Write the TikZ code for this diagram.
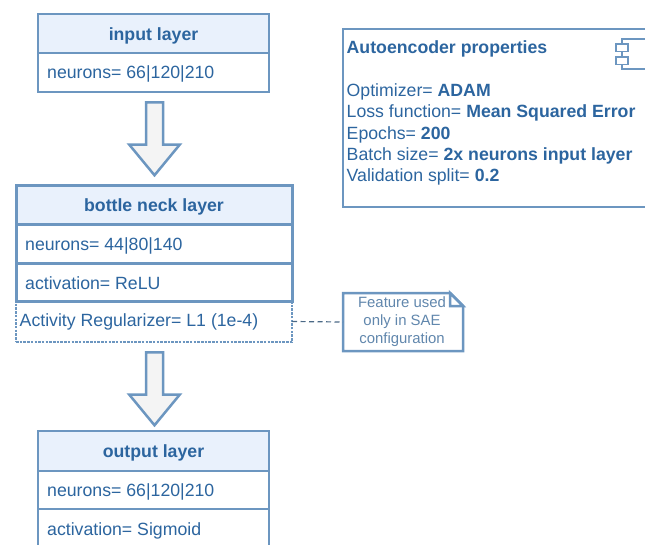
\documentclass[tikz,border=0pt]{standalone}
\usepackage{fontspec}
\setmainfont{Liberation Sans}
\usetikzlibrary{shapes.arrows,shapes.misc,positioning}
\definecolor{edge}{HTML}{6C96C0}
\definecolor{ink}{HTML}{2C659F}
\definecolor{headfill}{HTML}{E9F1FC}
\definecolor{arrowfill}{HTML}{F4F4F4}
\tikzset{
  x=1pt,y=-1pt,
  box/.style={draw=edge,line width=2.5pt,rectangle,inner sep=0pt,outer sep=0pt,anchor=north west},
  head/.style={box,fill=headfill,text=ink,font=\fontsize{17.7}{20}\selectfont\bfseries,text height=13pt,text depth=0pt},
  row/.style={box,fill=white},
  thickrow/.style={row,line width=3pt},
  label/.style={text=ink,font=\fontsize{17.7}{20}\selectfont,inner sep=0pt,anchor=base west},
  icopart/.style={draw=edge,line width=1.6pt,inner sep=0pt,outer sep=0pt,anchor=north west},
  blockarrow/.style={shape=single arrow,draw=edge,fill=arrowfill,line width=2.5pt,
    shape border rotate=270,minimum height=73pt,minimum width=48pt,
    single arrow head extend=16.75pt,single arrow tip angle=79,single arrow head indent=0pt,
    inner xsep=7.25pt,inner ysep=0pt,outer sep=0pt},
}
\begin{document}
\begin{tikzpicture}
\useasboundingbox (0,0) rectangle (645,544);
\clip (0,0) rectangle (645,544);
% input layer
\node[head,minimum width=231pt,minimum height=39pt] (inH) at (38,14) {input layer};
\node[row,minimum width=231pt,minimum height=39pt] (inR) at (38,53) {};
\node[label] (inT) at (47,78) {neurons= 66|120|210};
% arrows
\node[blockarrow] (arrA) at (154.5,133.6) {};
% bottleneck
\node[box,dash pattern=on 2.5pt off 1.2pt,line width=2.8pt,minimum width=276pt,minimum height=41pt] (bnR3) at (16,301) {};
\node[head,thickrow,fill=headfill,minimum width=276pt,minimum height=39pt] (bnH) at (16,185) {bottle neck layer};
\node[thickrow,minimum width=276pt,minimum height=39pt] (bnR1) at (16,224) {};
\node[label] (bnT1) at (25,250) {neurons= 44|80|140};
\node[thickrow,minimum width=276pt,minimum height=38pt] (bnR2) at (16,263) {};
\node[label] (bnT2) at (25,289) {activation= ReLU};
\node[label] (bnT3) at (19.5,326) {Activity Regularizer= L1 (1e-4)};
\node[blockarrow] (arrB) at (154.5,383.6) {};
% output
\node[head,minimum width=231pt,minimum height=40pt] (outH) at (38,431) {output layer};
\node[row,minimum width=231pt,minimum height=38pt] (outR1) at (38,471) {};
\node[label] (outT1) at (47,496) {neurons= 66|120|210};
\node[row,minimum width=231pt,minimum height=60pt] (outR2) at (38,509) {};
\node[label] (outT2) at (47,535) {activation= Sigmoid};
% note
\node[inner sep=0pt,outer sep=0pt,minimum width=120pt,minimum height=58pt,anchor=north west] (note) at (343,293) {};
\draw[draw=edge,line width=2.5pt,fill=white,line join=miter]
  (note.north west) -- ([xshift=-13pt]note.north east) -- ([yshift=-13pt]note.north east) -- (note.south east) -- (note.south west) -- cycle;
\draw[draw=edge,line width=2.5pt,fill=white,line join=miter]
  ([xshift=-13pt]note.north east) -- ([xshift=-13pt,yshift=-13pt]note.north east) -- ([yshift=-13pt]note.north east) -- cycle;
\node[align=center,text=edge!90!black,font=\fontsize{14.9}{18}\selectfont,inner sep=0pt] (noteT) at ([xshift=-1pt]note.center) {Feature used\\only in SAE\\configuration};
\draw[edge!70!black,line width=1.2pt,dash pattern=on 5pt off 3.5pt] (bnR3.east) -- (note.west);
% properties
\node[box,minimum width=320pt,minimum height=178pt] (prop) at (343,29) {};
\node[inner sep=0pt,anchor=north west,align=left,text=ink,font=\fontsize{17.7}{21.4}\selectfont] (propT) at (346.5,40.5)
 {\textbf{Autoencoder properties}\\[21.4pt]
  Optimizer= \textbf{ADAM}\\
  Loss function= \textbf{Mean Squared Error}\\
  Epochs= \textbf{200}\\
  Batch size= \textbf{2x neurons input layer}\\
  Validation split= \textbf{0.2}};
% component icon
\node[icopart,minimum width=40pt,minimum height=30pt] (ico) at (622,39) {};
\node[icopart,fill=white,minimum width=12pt,minimum height=7.5pt] (icoA) at (616,44) {};
\node[icopart,fill=white,minimum width=12pt,minimum height=7.5pt] (icoB) at (616,57) {};
\end{tikzpicture}
\end{document}
